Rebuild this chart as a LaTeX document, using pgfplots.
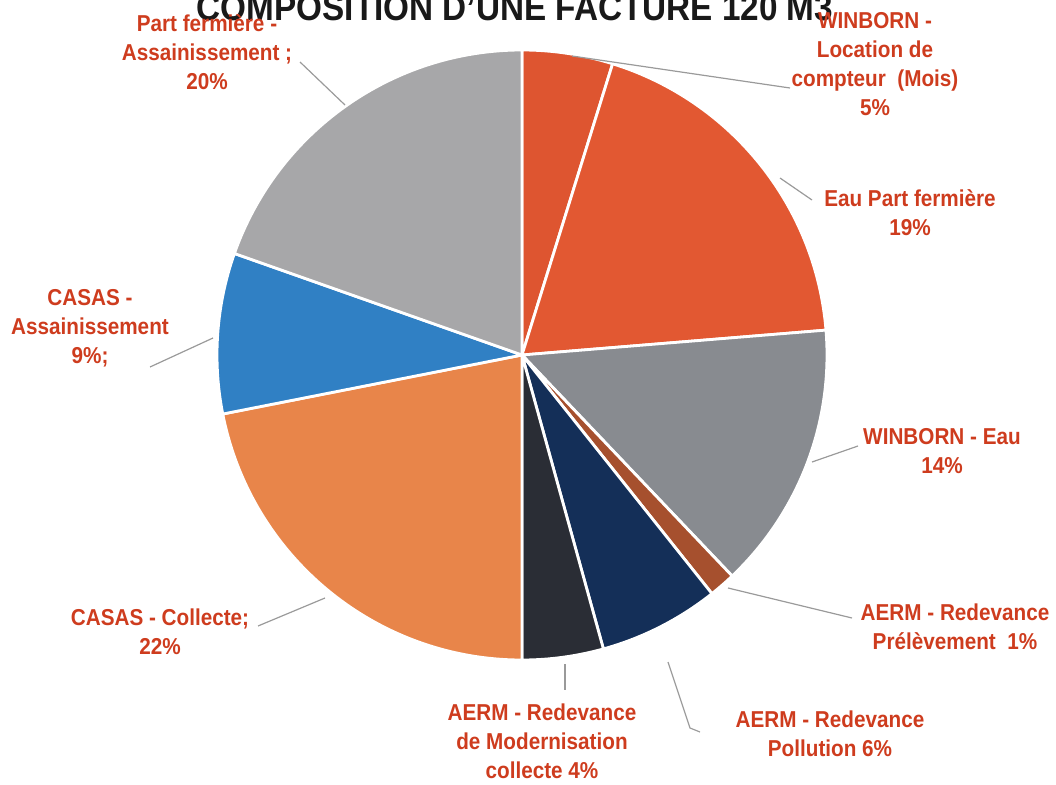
\documentclass[border=0pt]{standalone}
\usepackage{fontspec}
\setmainfont[FakeStretch=0.9]{Liberation Sans}
\usepackage{pgfplots}
\usepackage{pgfplotstable}
\pgfplotsset{compat=1.18}

\definecolor{cLoc}{HTML}{DE5530}
\definecolor{cEauPF}{HTML}{E25832}
\definecolor{cWinEau}{HTML}{888B90}
\definecolor{cPrel}{HTML}{A6502E}
\definecolor{cPoll}{HTML}{142F58}
\definecolor{cModer}{HTML}{2A2D35}
\definecolor{cCollecte}{HTML}{E8854A}
\definecolor{cCasasA}{HTML}{3080C4}
\definecolor{cPFA}{HTML}{A7A7A9}
\definecolor{labred}{HTML}{CE3C1E}
\definecolor{leader}{HTML}{9A9A9A}

% slices clockwise from 12 o'clock, values in percent
\pgfplotstableread[col sep=comma]{
label,value,color
WINBORN Location de compteur,4.8,cLoc
Eau Part fermiere,18.9,cEauPF
WINBORN Eau,14.2,cWinEau
AERM Prelevement,1.4,cPrel
AERM Pollution,6.4,cPoll
AERM Modernisation collecte,4.3,cModer
CASAS Collecte,21.9,cCollecte
CASAS Assainissement,8.5,cCasasA
Part fermiere Assainissement,19.6,cPFA
}\piedata

\begin{document}
\begin{tikzpicture}
\begin{axis}[
  x=0.5pt, y=0.5pt,
  xmin=0, xmax=1056, ymin=0, ymax=784,
  hide axis, clip=false,
]
\coordinate (ll) at (axis cs:0,0);
\coordinate (ur) at (axis cs:1056,784);
\gdef\cum{0}
\pgfplotsinvokeforeach{0,...,8}{
  \pgfplotstablegetelem{#1}{value}\of\piedata
  \let\v=\pgfplotsretval
  \pgfplotstablegetelem{#1}{color}\of\piedata
  \let\c=\pgfplotsretval
  \pgfmathsetmacro{\sa}{90-\cum*3.6}
  \pgfmathsetmacro{\ea}{90-(\cum+\v)*3.6}
  \edef\temp{\noexpand\filldraw[fill=\c, draw=white, line width=1.4pt, line join=round]
     (axis cs:522,429) -- ++(\sa:152.5pt) arc[start angle=\sa, end angle=\ea, radius=152.5pt] -- cycle;}
  \temp
  \pgfmathsetmacro{\newcum}{\cum+\v}
  \xdef\cum{\newcum}
}

% title (cut at the top edge, as in the scan)
\node[font=\bfseries\fontsize{18.5}{22}\selectfont, text=black!90, anchor=base] at (axis cs:515,763) {COMPOSITION D'UNE FACTURE 120 M3};

% leader lines
\begin{scope}[draw=leader, line width=0.6pt]
\draw (axis cs:300,722) -- (axis cs:345,679);
\draw (axis cs:572,728) -- (axis cs:790,696);
\draw (axis cs:780,606) -- (axis cs:812,584);
\draw (axis cs:812,322) -- (axis cs:858,338);
\draw (axis cs:728,196) -- (axis cs:852,166);
\draw (axis cs:668,122) -- (axis cs:690,56) -- (axis cs:700,52);
\draw (axis cs:565,120) -- (axis cs:565,94);
\draw (axis cs:325,186) -- (axis cs:258,158);
\draw (axis cs:213,446) -- (axis cs:150,417);
\end{scope}

% labels
\begin{scope}[every node/.style={align=center, inner sep=0pt, text=labred, font=\bfseries\fontsize{11.5}{14.5}\selectfont}]
\node at (axis cs:207,732) {Part fermière -\\Assainissement ;\\20\%};
\node at (axis cs:875,720) {WINBORN -\\Location de\\compteur\ \ (Mois)\\5\%};
\node at (axis cs:910,571) {Eau Part fermière\\19\%};
\node at (axis cs:942,333) {WINBORN - Eau\\14\%};
\node at (axis cs:955,157) {AERM - Redevance\\Prélèvement\ \ 1\%};
\node at (axis cs:830,50) {AERM - Redevance\\Pollution 6\%};
\node at (axis cs:542,43) {AERM - Redevance\\de Modernisation\\collecte 4\%};
\node at (axis cs:160,152) {CASAS - Collecte;\\22\%};
\node at (axis cs:90,456) {CASAS -\\Assainissement\\9\%;};
\end{scope}
\end{axis}
\pgfresetboundingbox
\useasboundingbox (ll) rectangle (ur);
\end{tikzpicture}
\end{document}
